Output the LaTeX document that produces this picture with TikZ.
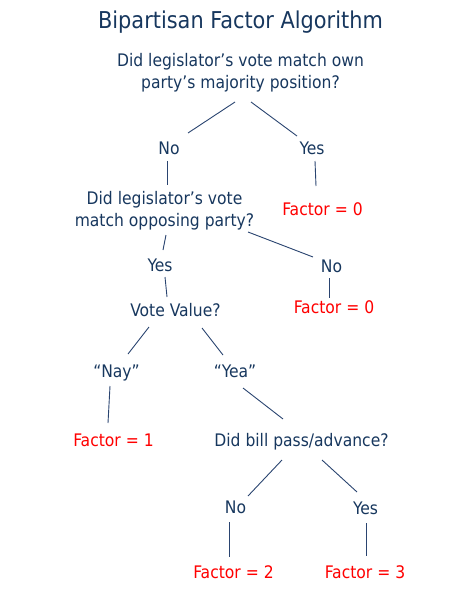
\documentclass[tikz,border=0pt]{standalone}
\usepackage{fontspec}
\setmainfont{DejaVu Sans Condensed}
\usetikzlibrary{calc}
\definecolor{navy}{HTML}{17375E}
\definecolor{edgec}{HTML}{2A4470}
\definecolor{redc}{HTML}{FF0000}
\tikzset{
  q/.style={anchor=base, inner sep=0pt, text=navy, align=center, font=\fontsize{17.3}{22}\selectfont},
  ans/.style={q},
  res/.style={anchor=base, inner sep=0pt, text=redc, font=\fontsize{17.3}{22}\selectfont},
  ttl/.style={anchor=base, inner sep=0pt, text=navy, font=\fontsize{23.2}{27}\selectfont},
  conn/.style={draw=edgec, line width=0.9pt}
}
\begin{document}
\begin{tikzpicture}[x=1pt,y=-1pt]
\useasboundingbox (0,0) rectangle (470,604);
\node[ttl] (title) at (240.5,29) {Bipartisan Factor Algorithm};
\node[q] (q1) at (240.5,89) {Did legislator’s vote match own\\party’s majority position?};
\node[ans] (no1) at (169,154) {No};
\node[ans] (yes1) at (312,154) {Yes};
\node[q] (q2) at (164.5,226) {Did legislator’s vote\\match opposing party?};
\node[res] (f0a) at (322.5,215) {Factor = 0};
\node[ans] (yes2) at (160,271) {Yes};
\node[ans] (no2) at (331.5,272) {No};
\node[q] (vv) at (175.5,316) {Vote Value?};
\node[res] (f0b) at (334,313) {Factor = 0};
\node[ans] (nay) at (116.5,377) {“Nay”};
\node[ans] (yea) at (235,377) {“Yea”};
\node[res] (f1) at (113.5,446) {Factor = 1};
\node[q] (db) at (301.5,446) {Did bill pass/advance?};
\node[ans] (no3) at (235.5,513) {No};
\node[ans] (yes3) at (365.5,514) {Yes};
\node[res] (f2) at (233.5,578) {Factor = 2};
\node[res] (f3) at (365,578) {Factor = 3};

\draw[conn] ($(q1.base)+(-5.5,13)$) -- ($(no1.base)+(19,-21)$);
\draw[conn] ($(q1.base)+(10.5,13)$) -- ($(yes1.base)+(-15,-18)$);
\draw[conn] ($(no1.base)+(-2,7)$) -- ($(q2.base)+(2.5,-41)$);
\draw[conn] ($(yes1.base)+(3,7)$) -- ($(f0a.base)+(-6.5,-29)$);
\draw[conn] ($(q2.base)+(1.5,9)$) -- ($(yes2.base)+(3,-21)$);
\draw[conn] ($(q2.base)+(83.5,6)$) -- ($(no2.base)+(-18.5,-15)$);
\draw[conn] ($(yes2.base)+(5,6)$) -- ($(vv.base)+(-8.5,-19)$);
\draw[conn] ($(no2.base)+(-2.5,6)$) -- ($(f0b.base)+(-5,-15)$);
\draw[conn] ($(vv.base)+(-26.5,11)$) -- ($(nay.base)+(11.5,-23)$);
\draw[conn] ($(vv.base)+(26.5,12)$) -- ($(yea.base)+(-12,-22)$);
\draw[conn] ($(nay.base)+(-6.5,9)$) -- ($(f1.base)+(-5.5,-23)$);
\draw[conn] ($(yea.base)+(8,11)$) -- ($(db.base)+(-18.5,-27)$);
\draw[conn] ($(db.base)+(-19.5,14)$) -- ($(no3.base)+(12.5,-17)$);
\draw[conn] ($(db.base)+(20.5,14)$) -- ($(yes3.base)+(-8.5,-22)$);
\draw[conn] ($(no3.base)+(-6.5,9)$) -- ($(f2.base)+(-4.5,-21)$);
\draw[conn] ($(yes3.base)+(0.5,9)$) -- ($(f3.base)+(1,-22)$);
\end{tikzpicture}
\end{document}
